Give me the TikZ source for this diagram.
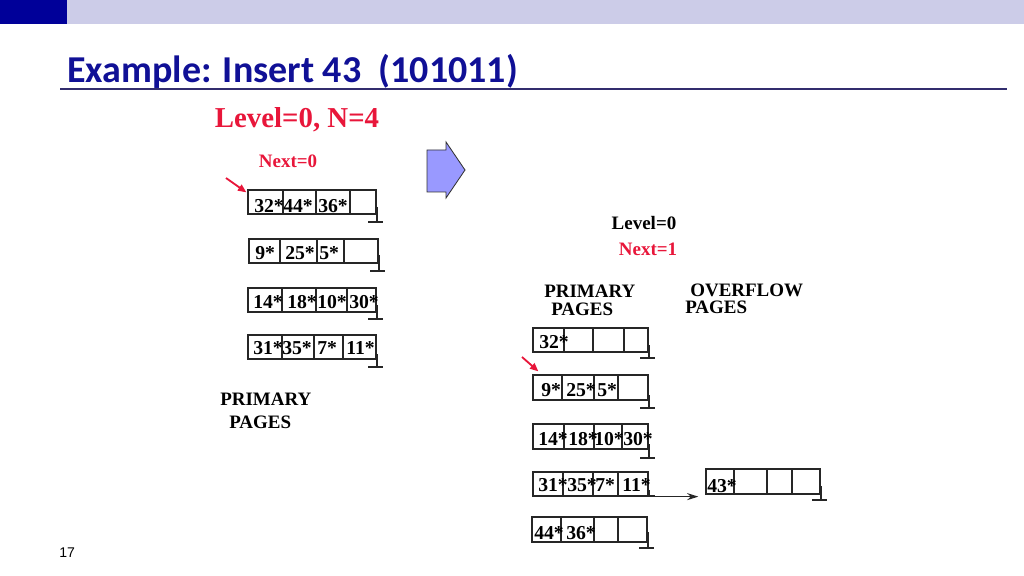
\documentclass[tikz,border=0pt]{standalone}
\usepackage{fontspec}
\setmainfont{Liberation Serif}
\newfontfamily\calibrifont{Carlito}
\newfontfamily\arialfont{Liberation Sans}
\usetikzlibrary{arrows.meta,fit}
\definecolor{barblue}{RGB}{0,0,153}
\definecolor{barlight}{RGB}{204,204,232}
\definecolor{titleblue}{RGB}{16,16,150}
\definecolor{hred}{RGB}{232,22,58}
\definecolor{arrowfill}{RGB}{153,153,255}
\definecolor{rulecol}{RGB}{50,45,110}
\tikzset{
  cell/.style={font=\bfseries\fontsize{14}{16}\selectfont, anchor=west, inner sep=0pt},
  lbl/.style={font=\bfseries\fontsize{13.5}{15}\selectfont, inner sep=0pt},
  pagebox/.style={draw=black!85, line width=0.9pt},
  groundline/.style={draw=black!85, line width=0.9pt},
  redarrow/.style={draw=hred, line width=1.3pt, -{Triangle[length=6pt,width=5pt]}},
  flowarrow/.style={draw=black!85, line width=0.9pt, -{Stealth[length=8pt,width=5pt]}},
}
% name, x0, y0, x1, y1, dividers, ground top y, ground bottom y
\newcommand\bucket[8]{%
  \coordinate (#1-nw) at (#2,#3);
  \coordinate (#1-se) at (#4,#5);
  \node[pagebox, fit=(#1-nw)(#1-se), inner sep=0pt] (#1) {};
  \foreach \d in {#6} \draw[pagebox] (\d,#3) -- (\d,#5);
  \draw[groundline] (#4+1,#7) -- (#4+1,#8) (#4-8,#8) -- (#4+7,#8);
}
\begin{document}
\begin{tikzpicture}[x=0.025cm,y=-0.025cm]
\useasboundingbox (0,0) rectangle (1024,576);
% top bars
\fill[barlight] (67,0) rectangle (1024,24);
\fill[barblue] (0,0) rectangle (67,24);
% title
\node[anchor=base west, inner sep=0pt, text=titleblue,
      font=\calibrifont\bfseries\fontsize{27}{30}\selectfont] (title) at (67,83)
      {Example: Insert 43\ \ (101011)};
\draw[rulecol, line width=0.8pt] (60,89) -- (1007,89);

% left side
\node[lbl, text=hred, font=\bfseries\fontsize{20.5}{23}\selectfont] (lvl) at (297,120) {Level=0, N=4};
\node[lbl, text=hred] (next0) at (288,161) {Next=0};

\bucket{o1}{248}{190}{376}{214}{283,316,350}{207}{222}
\bucket{o2}{249}{239}{378}{263}{280,317,344}{255}{271}
\bucket{o3}{248}{288}{376}{312}{282,316,347}{305}{319}
\bucket{o4}{248}{335}{376}{359}{282,314,343}{354}{367}

\node[cell] (o1a) at (254,206) {32*};
\node[cell] (o1b) at (283,206) {44*};
\node[cell] (o1c) at (318,206) {36*};
\node[cell] (o2a) at (255,253) {9*};
\node[cell] (o2b) at (285,253) {25*};
\node[cell] (o2c) at (319,253) {5*};
\node[cell] (o3a) at (253,302) {14*};
\node[cell] (o3b) at (287,302) {18*};
\node[cell] (o3c) at (317,302) {10*};
\node[cell] (o3d) at (349,302) {30*};
\node[cell] (o4a) at (253,348) {31*};
\node[cell] (o4b) at (282,348) {35*};
\node[cell] (o4c) at (317,348) {7*};
\node[cell] (o4d) at (346,348) {11*};

\coordinate (p0) at (226,178);
\draw[redarrow] (p0) -- ([shift={(-1,3)}]o1.north west);

\node[lbl, anchor=west] (prim1) at (220,399) {PRIMARY};
\node[lbl, anchor=west] (pages1) at (229,422) {PAGES};

% big arrow
\draw[fill=arrowfill, draw=black!80, line width=0.6pt]
  (427,150) -- (446,150) -- (446,142) -- (465,170) -- (446,198) -- (446,192) -- (427,192) -- cycle;

% right side
\node[lbl] (lvl2) at (644,223) {Level=0};
\node[lbl, text=hred] (next1) at (648,249) {Next=1};
\node[lbl, anchor=west] (prim2) at (544,291) {PRIMARY};
\node[lbl, anchor=west] (pages2) at (551,309) {PAGES};
\node[lbl, anchor=west] (ovf1) at (690,290) {OVERFLOW};
\node[lbl, anchor=west] (ovf2) at (685,307) {PAGES};

\bucket{r1}{533}{328}{648}{352}{564,593,624}{345}{358}
\bucket{r2}{533}{375}{648}{400}{562,594,618}{395}{408}
\bucket{r3}{533}{424}{648}{449}{564,594,622}{444}{458}
\bucket{r4}{533}{472}{648}{496}{563,593,618}{490}{496}
\bucket{r5}{532}{517}{647}{542}{561,594,618}{532}{548}
\bucket{ov}{706}{469}{820}{494}{734,767,792}{486}{500}

\node[cell] (r1a) at (539,342) {32*};
\node[cell] (r2a) at (541,390) {9*};
\node[cell] (r2b) at (566,390) {25*};
\node[cell] (r2c) at (597,390) {5*};
\node[cell] (r3a) at (538,439) {14*};
\node[cell] (r3b) at (568,439) {18*};
\node[cell] (r3c) at (594,439) {10*};
\node[cell] (r3d) at (623,439) {30*};
\node[cell] (r4a) at (538,485) {31*};
\node[cell] (r4b) at (567,485) {35*};
\node[cell] (r4c) at (595,485) {7*};
\node[cell] (r4d) at (622,485) {11*};
\node[cell] (r5a) at (534,533) {44*};
\node[cell] (r5b) at (566,533) {36*};
\node[cell] (ova) at (707,486) {43*};

\coordinate (p1) at (522,357);
\draw[redarrow] (p1) -- ([shift={(6,-3)}]r2.north west);

\draw[flowarrow, shorten >=5pt] (r4.south east) -- (r4.south east -| ov.west);

% page number
\node[anchor=west, inner sep=0pt, font=\arialfont\fontsize{10}{12}\selectfont] (pnum) at (59,553) {17};
\end{tikzpicture}
\end{document}
